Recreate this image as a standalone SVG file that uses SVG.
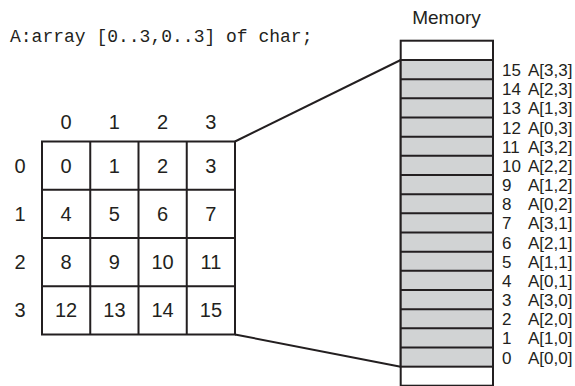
<svg xmlns="http://www.w3.org/2000/svg" width="575" height="386" viewBox="0 0 575 386">
<style>
.ln{stroke:#231f20;stroke-width:2;fill:none}
.cell{fill:#ffffff;stroke:#231f20;stroke-width:2}
.mem{fill:#d1d3d4;stroke:#231f20;stroke-width:2}
.blank{fill:#ffffff;stroke:#231f20;stroke-width:2}
.t{font-family:"Liberation Sans","Noto Sans",sans-serif;fill:#231f20}
.g{font-size:20px;text-anchor:middle}
.m{font-size:17px}
.code{font-family:"Liberation Mono","DejaVu Sans Mono",monospace;font-size:18px;fill:#231f20}
</style>
<rect width="575" height="386" fill="#ffffff"/>
<text id="decl" class="code" x="10" y="42">A:array [0..3,0..3] of char;</text>
<g id="array">
<rect class="cell" x="42" y="141.5" width="193" height="193"/>
<path class="ln" d="M90.25 141.5V334.5M138.5 141.5V334.5M186.75 141.5V334.5M42 189.75H235M42 238H235M42 286.25H235"/>
<g class="t g">
<text x="66.1" y="129">0</text><text x="114.4" y="129">1</text><text x="162.6" y="129">2</text><text x="210.9" y="129">3</text>
<text x="20" y="172.6">0</text><text x="20" y="220.9">1</text><text x="20" y="269.1">2</text><text x="20" y="317.4">3</text>
<text x="66.1" y="172.6">0</text><text x="114.4" y="172.6">1</text><text x="162.6" y="172.6">2</text><text x="210.9" y="172.6">3</text>
<text x="66.1" y="220.9">4</text><text x="114.4" y="220.9">5</text><text x="162.6" y="220.9">6</text><text x="210.9" y="220.9">7</text>
<text x="66.1" y="269.1">8</text><text x="114.4" y="269.1">9</text><text x="162.6" y="269.1">10</text><text x="210.9" y="269.1">11</text>
<text x="66.1" y="317.4">12</text><text x="114.4" y="317.4">13</text><text x="162.6" y="317.4">14</text><text x="210.9" y="317.4">15</text>
</g>
</g>
<g id="memory">
<text class="t" x="446.5" y="24" font-size="19" text-anchor="middle">Memory</text>
<rect class="blank" x="400.7" y="40.7" width="92.3" height="345"/>
<rect class="mem" x="400.7" y="60" width="92.3" height="306.67"/>
<path class="ln" d="M400.7 79.17H493M400.7 98.33H493M400.7 117.5H493M400.7 136.67H493M400.7 155.83H493M400.7 175H493M400.7 194.17H493M400.7 213.33H493M400.7 232.5H493M400.7 251.67H493M400.7 270.83H493M400.7 290H493M400.7 309.17H493M400.7 328.33H493M400.7 347.5H493"/>
<g class="t m">
<text x="502" y="76.1">15</text><text x="528" y="76.1">A[3,3]</text>
<text x="502" y="95.3">14</text><text x="528" y="95.3">A[2,3]</text>
<text x="502" y="114.4">13</text><text x="528" y="114.4">A[1,3]</text>
<text x="502" y="133.6">12</text><text x="528" y="133.6">A[0,3]</text>
<text x="502" y="152.8">11</text><text x="528" y="152.8">A[3,2]</text>
<text x="502" y="171.9">10</text><text x="528" y="171.9">A[2,2]</text>
<text x="502" y="191.1">9</text><text x="528" y="191.1">A[1,2]</text>
<text x="502" y="210.3">8</text><text x="528" y="210.3">A[0,2]</text>
<text x="502" y="229.4">7</text><text x="528" y="229.4">A[3,1]</text>
<text x="502" y="248.6">6</text><text x="528" y="248.6">A[2,1]</text>
<text x="502" y="267.8">5</text><text x="528" y="267.8">A[1,1]</text>
<text x="502" y="286.9">4</text><text x="528" y="286.9">A[0,1]</text>
<text x="502" y="306.1">3</text><text x="528" y="306.1">A[3,0]</text>
<text x="502" y="325.3">2</text><text x="528" y="325.3">A[2,0]</text>
<text x="502" y="344.4">1</text><text x="528" y="344.4">A[1,0]</text>
<text x="502" y="363.6">0</text><text x="528" y="363.6">A[0,0]</text>
</g>
</g>
<g id="connectors">
<path class="ln" d="M235 141.5L400.7 60"/>
<path class="ln" d="M235 334.5L400.7 366.67"/>
</g>
</svg>
